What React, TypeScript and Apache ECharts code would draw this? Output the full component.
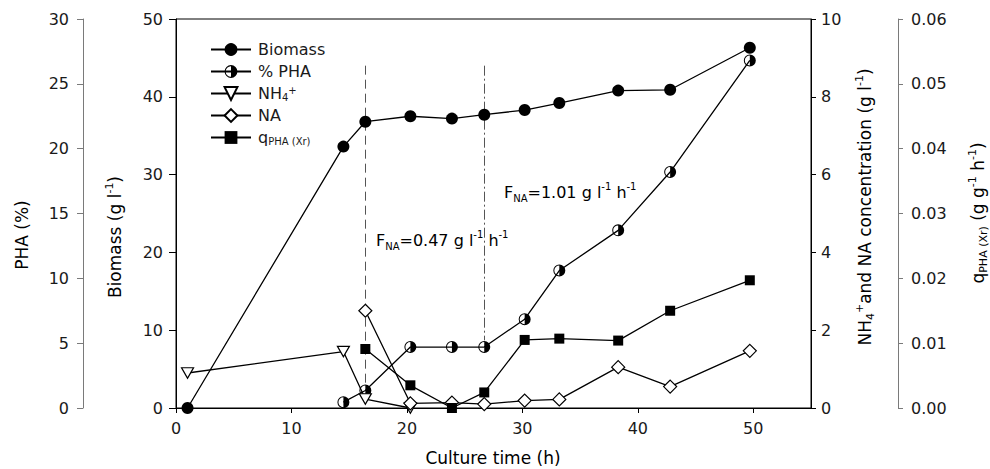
import React, { useEffect, useRef } from 'react';
import * as echarts from 'echarts';

// ---- data ----
const biomassTime = [1, 14.5, 16.4, 20.3, 23.9, 26.7, 30.2, 33.2, 38.3, 42.8, 49.7];
const biomass = [0, 33.6, 36.8, 37.5, 37.2, 37.7, 38.3, 39.2, 40.8, 40.9, 46.3];

const phaTime = [14.5, 16.4, 20.3, 23.9, 26.7, 30.2, 33.2, 38.3, 42.8, 49.7];
const phaPercent = [0.45, 1.35, 4.7, 4.7, 4.7, 6.85, 10.6, 13.7, 18.2, 26.8];

const nh4Time = [1, 14.5, 16.4, 20.3];
const nh4 = [0.9, 1.45, 0.23, 0];

const naTime = [16.4, 20.3, 23.9, 26.7, 30.2, 33.2, 38.3, 42.8, 49.7];
const na = [2.5, 0.12, 0.14, 0.1, 0.19, 0.22, 1.05, 0.55, 1.47];

const qTime = [16.4, 20.3, 23.9, 26.7, 30.2, 33.2, 38.3, 42.8, 49.7];
const qPha = [0.0091, 0.0035, 0, 0.0024, 0.0105, 0.0107, 0.0104, 0.015, 0.0197];

const feedChangeTimes = [16.4, 26.7];
const feedLineTop = 44;
const feedLineBottoms = [3, 8.7];

const seriesNames = ['Biomass', '% PHA', 'NH4+', 'NA', 'qPHA'];

const FONT = '"DejaVu Sans", "Liberation Sans", Arial, sans-serif';
const TXT = '#1a1a1a';
const AXIS_GRAY = '#7a7a7a';

const pair = (xs: number[], ys: number[]) => xs.map((x, i) => [x, ys[i]]);

const makeRich = (fs: number, lh: number) => ({
  b: { fontSize: fs, fontFamily: FONT, color: TXT, lineHeight: lh },
  sub: { fontSize: Math.round(fs * 0.62), fontFamily: FONT, color: TXT, lineHeight: Math.round(fs * 0.7), verticalAlign: 'bottom' },
  sup: { fontSize: Math.round(fs * 0.62), fontFamily: FONT, color: TXT, lineHeight: Math.round(fs * 0.7), verticalAlign: 'top' },
});

const legendLabel: Record<string, string> = {
  'Biomass': '{b|Biomass}',
  '% PHA': '{b|% PHA}',
  'NH4+': '{b|NH}{sub|4}{sup|+}',
  'NA': '{b|NA}',
  'qPHA': '{b|q}{sub|PHA (Xr)}',
};

const HALF_CIRCLE =
  'path://M10 0A10 10 0 1 1 10 20A10 10 0 1 1 10 0ZM10 1.7A8.3 8.3 0 1 0 10 18.3A8.3 8.3 0 1 0 10 1.7ZM10 1.7A8.3 8.3 0 0 1 10 18.3Z';
const DOWN_TRIANGLE = 'path://M0 0L20 0L10 17.5Z';

export default function App() {
  const ref = useRef<HTMLDivElement>(null);

  useEffect(() => {
    if (!ref.current) return;
    const chart = echarts.init(ref.current, null, { renderer: 'svg' });

    const tickLabel = { fontFamily: FONT, fontSize: 16, color: TXT };
    const titleRich = makeRich(17, 22);
    const xTitleRich = makeRich(17, 18);
    const annRich = makeRich(16, 22);
    const lineStyle = { color: '#000', width: 1.3 };

    const option: any = {
      animation: false,
      backgroundColor: '#fff',
      grid: { left: 176, right: 179, top: 19, bottom: 61, show: true, borderColor: '#000', borderWidth: 1, backgroundColor: 'transparent' },
      legend: {
        show: true,
        selectedMode: false,
        orient: 'vertical',
        left: 205,
        top: 36,
        itemWidth: 40,
        itemHeight: 16,
        itemGap: 5,
        data: seriesNames,
        formatter: (n: string) => legendLabel[n] || n,
        textStyle: { fontFamily: FONT, fontSize: 16, color: TXT, lineHeight: 17, padding: [0, 0, 0, 2], rich: makeRich(16, 17) },
      },
      xAxis: {
        type: 'value',
        min: 0,
        max: 55,
        interval: 10,
        axisLine: { show: true, lineStyle: { color: '#000', width: 1 } },
        axisTick: { show: true, inside: false, length: 5, lineStyle: { color: '#000' } },
        axisLabel: { ...tickLabel, margin: 12, showMaxLabel: false },
        splitLine: { show: false },
      },
      yAxis: [
        {
          type: 'value', position: 'left', min: 0, max: 50, interval: 10,
          axisLine: { show: true, lineStyle: { color: '#000' } },
          axisTick: { show: true, inside: false, length: 7, lineStyle: { color: '#000' } },
          axisLabel: { ...tickLabel, margin: 13 },
          splitLine: { show: false },
        },
        {
          type: 'value', position: 'left', offset: 93, min: 0, max: 30, interval: 5,
          axisLine: { show: true, lineStyle: { color: AXIS_GRAY } },
          axisTick: { show: true, inside: false, length: 6, lineStyle: { color: AXIS_GRAY } },
          axisLabel: { ...tickLabel, margin: 14 },
          splitLine: { show: false },
        },
        {
          type: 'value', position: 'right', min: 0, max: 10, interval: 2,
          axisLine: { show: true, lineStyle: { color: '#000' } },
          axisTick: { show: true, inside: false, length: 5, lineStyle: { color: '#000' } },
          axisLabel: { ...tickLabel, margin: 10 },
          splitLine: { show: false },
        },
        {
          type: 'value', position: 'right', offset: 87, min: 0, max: 0.06, interval: 0.01,
          axisLine: { show: true, lineStyle: { color: AXIS_GRAY } },
          axisTick: { show: true, inside: false, length: 5, lineStyle: { color: AXIS_GRAY } },
          axisLabel: { ...tickLabel, margin: 13, formatter: (v: number) => v.toFixed(2) },
          splitLine: { show: false },
        },
      ],
      series: [
        {
          name: 'Biomass', type: 'line', yAxisIndex: 0, data: pair(biomassTime, biomass),
          symbol: 'circle', symbolSize: 12, z: 5,
          itemStyle: { color: '#000', borderWidth: 0 }, lineStyle,
          markLine: {
            silent: true, symbol: 'none', label: { show: false },
            data: [
              [
                { coord: [feedChangeTimes[0], feedLineTop], lineStyle: { color: '#555', width: 1, type: [9, 5] } },
                { coord: [feedChangeTimes[0], feedLineBottoms[0]] },
              ],
              [
                { coord: [feedChangeTimes[1], feedLineTop], lineStyle: { color: '#555', width: 1, type: [10, 3, 2, 3] } },
                { coord: [feedChangeTimes[1], feedLineBottoms[1]] },
              ],
            ],
          },
        },
        {
          name: '% PHA', type: 'line', yAxisIndex: 1, data: pair(phaTime, phaPercent),
          symbol: HALF_CIRCLE, symbolSize: 12, z: 5,
          itemStyle: { color: '#000', borderWidth: 0 }, lineStyle,
        },
        {
          name: 'NH4+', type: 'line', yAxisIndex: 2, data: pair(nh4Time, nh4),
          symbol: DOWN_TRIANGLE, symbolSize: [12, 10.5], z: 5,
          itemStyle: { color: '#fff', borderColor: '#000', borderWidth: 1.2 }, lineStyle,
        },
        {
          name: 'NA', type: 'line', yAxisIndex: 2, data: pair(naTime, na),
          symbol: 'diamond', symbolSize: 13, z: 5,
          itemStyle: { color: '#fff', borderColor: '#000', borderWidth: 1.2 }, lineStyle,
        },
        {
          name: 'qPHA', type: 'line', yAxisIndex: 3, data: pair(qTime, qPha),
          symbol: 'rect', symbolSize: 10, z: 5,
          itemStyle: { color: '#000', borderWidth: 0 }, lineStyle,
        },
      ],
      graphic: [
        {
          type: 'text', x: 22, y: 235, rotation: Math.PI / 2,
          style: { text: '{b|PHA (%)}', rich: titleRich, align: 'center', verticalAlign: 'middle' },
        },
        {
          type: 'text', x: 115, y: 237, rotation: Math.PI / 2,
          style: { text: '{b|Biomass (g l}{sup|-1}{b|)}', rich: titleRich, align: 'center', verticalAlign: 'middle' },
        },
        {
          type: 'text', x: 865, y: 207, rotation: Math.PI / 2,
          style: { text: '{b|NH}{sub|4}{sup|+}{b|and NA concentration (g l}{sup|-1}{b|)}', rich: titleRich, align: 'center', verticalAlign: 'middle' },
        },
        {
          type: 'text', x: 978, y: 213, rotation: Math.PI / 2,
          style: { text: '{b|q}{sub|PHA (Xr)}{b| (g g}{sup|-1}{b| h}{sup|-1}{b|)}', rich: titleRich, align: 'center', verticalAlign: 'middle' },
        },
        {
          type: 'text', x: 493, y: 458,
          style: { text: '{b|Culture time (h)}', rich: xTitleRich, align: 'center', verticalAlign: 'middle' },
        },
        {
          type: 'text', x: 376, y: 240,
          style: { text: '{b|F}{sub|NA}{b|=0.47 g l}{sup|-1}{b| h}{sup|-1}', rich: annRich, align: 'left', verticalAlign: 'middle' },
        },
        {
          type: 'text', x: 504, y: 192,
          style: { text: '{b|F}{sub|NA}{b|=1.01 g l}{sup|-1}{b| h}{sup|-1}', rich: annRich, align: 'left', verticalAlign: 'middle' },
        },
      ],
    };

    chart.setOption(option);
    return () => chart.dispose();
  }, []);

  return (
    <div
      ref={ref}
      style={{ position: 'fixed', left: 0, top: 0, width: 990, height: 469, background: '#fff' }}
    />
  );
}
